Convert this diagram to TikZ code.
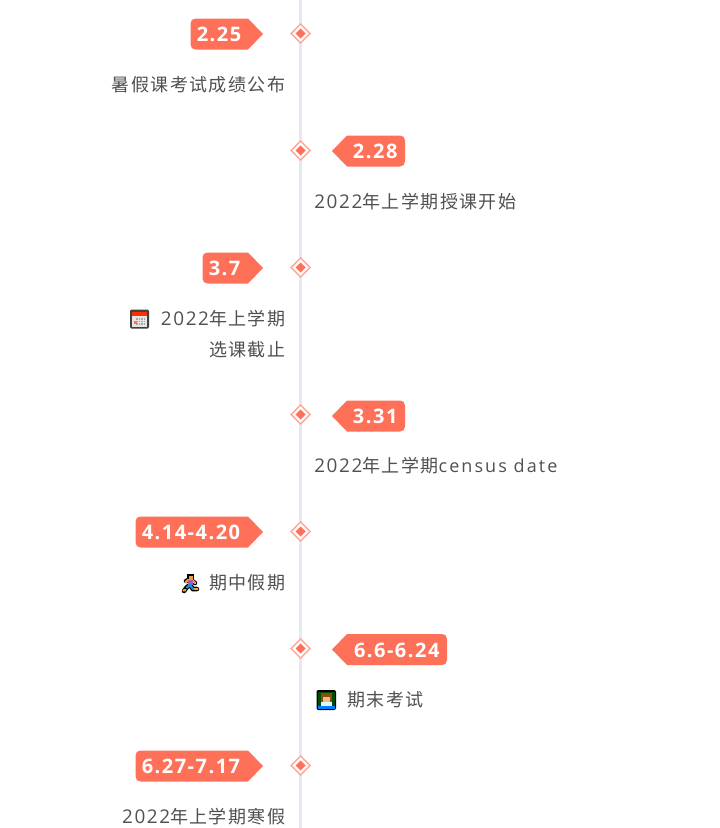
\documentclass[tikz,border=0pt]{standalone}
\usepackage{fontspec}
\usetikzlibrary{positioning}
\setmainfont{Open Sans}
\newfontfamily\cjk[LetterSpace=8]{Noto Sans CJK SC}
\newfontfamily\lat[LetterSpace=8.5,Scale=1.05]{Open Sans}
\newfontfamily\latw[LetterSpace=11.5]{Open Sans}
\newfontfamily\badgefont[LetterSpace=7.5]{Open Sans}
\definecolor{coral}{HTML}{FF7059}
\definecolor{coralpale}{HTML}{FFA698}
\definecolor{linegray}{HTML}{E6E8F2}
\definecolor{textgray}{HTML}{505050}
\definecolor{skin}{HTML}{E8A33D}
\definecolor{hair}{HTML}{8A4A14}
\tikzset{
  badgetext/.style={text=white,font=\fontsize{15}{15}\badgefont\bfseries,inner sep=0pt},
  lefttext/.style={anchor=base east,text=textgray,font=\fontsize{13.5}{13.5}\selectfont,inner sep=0pt},
  righttext/.style={anchor=base west,text=textgray,font=\fontsize{13.5}{13.5}\selectfont,inner sep=0pt},
  outl/.style={black,line width=3.4pt,line cap=round},
  limb/.style={line width=1.7pt,line cap=round}
}
% left badge: name, left edge, centre y, text
\newcommand{\badgeleft}[4]{
  \fill[coral] (#2+5,#3-15.5) .. controls (#2+2,#3-15.5) and (#2,#3-13.5) .. (#2,#3-10.5) -- (#2,#3+10.5)
    .. controls (#2,#3+13.5) and (#2+2,#3+15.5) .. (#2+5,#3+15.5) -- (248,#3+15.5) -- (263,#3) -- (248,#3-15.5) -- cycle;
  \node[badgetext,anchor=base west] (#1) at (#2+6,#3+7.7) {#4};
}
% right badge: name, right edge, centre y, text
\newcommand{\badgeright}[4]{
  \fill[coral] (#2-5,#3-15.5) .. controls (#2-2,#3-15.5) and (#2,#3-13.5) .. (#2,#3-10.5) -- (#2,#3+10.5)
    .. controls (#2,#3+13.5) and (#2-2,#3+15.5) .. (#2-5,#3+15.5) -- (347,#3+15.5) -- (332,#3) -- (347,#3-15.5) -- cycle;
  \node[badgetext,anchor=base east] (#1) at (#2-7.3,#3+7.7) {#4};
}
\begin{document}
\begin{tikzpicture}[x=0.75pt,y=-0.75pt]
\useasboundingbox (0,0) rectangle (719,828);
\coordinate (linetop) at (300.6,0);
\coordinate (linebot) at (300.6,828);
\draw[linegray,line width=2.5pt] (linetop) -- (linebot);
% diamonds on the line
\foreach \y/\name in {33.5/a,150.5/b,267.5/c,414.5/d,531.5/e,648.5/f,765.5/g}{
  \begin{scope}[xshift=0.45pt]
  \fill[white] (289.5,\y) -- (300,\y-10.5) -- (310.5,\y) -- (300,\y+10.5) -- cycle;
  \draw[coralpale,line width=1.1pt] (290.5,\y) -- (300,\y-9.5) -- (309.5,\y) -- (300,\y+9.5) -- cycle;
  \fill[coral] (295,\y) -- (300,\y-5) -- (305,\y) -- (300,\y+5) -- cycle;
  \coordinate (dia\name) at (300,\y);
  \end{scope}
}
\badgeleft{da}{190.5}{34}{2.25}
\badgeright{db}{405}{151}{2.28}
\badgeleft{dc}{202.5}{268}{3.7}
\badgeright{dd}{405}{416}{3.31}
\badgeleft{de}{135.5}{532}{4.14-4.20}
\badgeright{df}{447}{649.5}{6.6-6.24}
\badgeleft{dg}{135.5}{766}{6.27-7.17}
% texts
\node[lefttext] (ta) at (285.6,91) {\cjk 暑假课考试成绩公布};
\node[righttext] (tb) at (314,208) {\lat 2022\cjk 年上学期授课开始};
\node[lefttext] (tc) at (285.6,325) {\lat 2022\cjk 年上学期};
\node[lefttext] (tc2) at (285.6,356) {\cjk 选课截止};
\node[righttext] (td) at (314,472) {\lat 2022\cjk 年上学期\latw census date};
\node[lefttext] (te) at (285.6,589.5) {\cjk 期中假期};
\node[righttext] (tf) at (347,706.5) {\cjk 期末考试};
\node[lefttext] (tg) at (285.6,823) {\lat 2022\cjk 年上学期寒假};
% calendar
\fill[black!75,rounded corners=1] (130,309.5) rectangle (149,328.5);
\fill[white!90!black] (132,316) rectangle (147,326.5);
\fill[red!65!orange] (132,311.5) rectangle (147,316);
\foreach \i in {0,1,2,3}{
  \foreach \j in {0,1,2}{
    \fill[gray!70] (136+2.5*\i,318+2.5*\j) rectangle ++(1.5,1.5);
  }
}
\fill[coral] (133.5,320.5) rectangle ++(3,3);
% runner
\draw[outl] (184,591) -- (187,587) -- (190,585) -- (193,589) -- (197,589);
\draw[outl] (186,581) -- (190,579.5) -- (195,583);
\fill[black] (187,573.5) rectangle (194,580);
\fill[skin] (188.5,576) rectangle (193,579.5);
\draw[limb,skin] (186,582) -- (188,580);
\draw[limb,skin] (192,580) -- (195,583);
\fill[violet!65!white] (187.5,579.5) rectangle (192.5,584.5);
\draw[limb,cyan!80!blue] (187,587.5) -- (190,585) -- (193,589);
\draw[limb,skin] (183.5,590.5) -- (185.5,590);
\draw[limb,skin] (194.5,589) -- (197.5,589);
% student
\fill[black,rounded corners=1.5] (316.5,690) rectangle (336,710);
\fill[green!30!black] (318,691.5) rectangle (334.5,707);
\fill[hair] (321,693) rectangle (331.5,702);
\fill[skin!70!white] (322.5,696.5) rectangle (330,701.5);
\fill[white!88!cyan] (320.5,701.5) rectangle (332,707.5);
\fill[blue!50!cyan] (318,706) rectangle (334.5,708.5);
\end{tikzpicture}
\end{document}
